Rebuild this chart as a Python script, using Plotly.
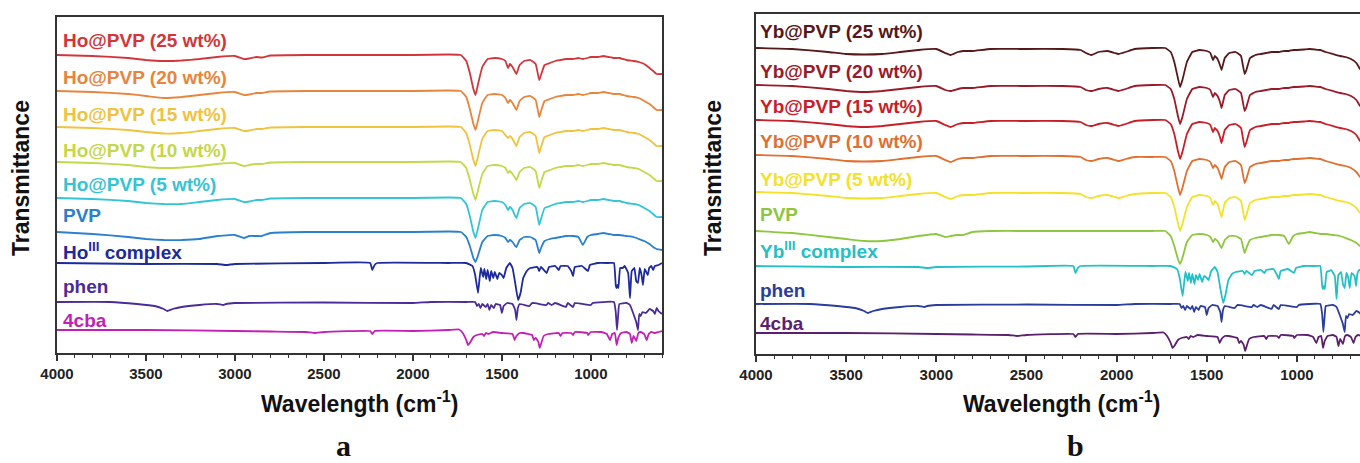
import plotly.graph_objects as go

# ---------------- data (transmittance, arbitrary units; 0 = local baseline) ----------------
wn_pvp_a = [4000, 3800, 3600, 3500, 3400, 3300, 3200, 3100, 3000, 2950,
            2920, 2880, 2850, 2800, 2600, 2400, 2200, 2000, 1800, 1730,
            1700, 1680, 1660, 1648, 1635, 1610, 1580, 1540, 1500, 1480,
            1465, 1455, 1440, 1425, 1418, 1400, 1375, 1340, 1310, 1290,
            1280, 1260, 1230, 1200, 1170, 1140, 1100, 1070, 1045, 1020,
            1000, 960, 930, 900, 870, 840, 800, 760, 730, 700,
            670, 650, 630, 600]

t_ho25 = [0, -1, -3, -5, -6, -5.5, -4, -2, -1, -4,
          -3.5, -2, -2.5, -0.5, 0, 0, 0, 0, 0.5, 0,
          -6, -18, -34, -40, -30, -12, -4, -3, -4, -6,
          -13, -9, -12, -17, -19, -10, -6, -5, -9, -25,
          -20, -10, -8, -6, -5, -4, -4, -3, -4, -3,
          -2, -2, -1, -2, -3, -3, -5, -6, -7, -9,
          -13, -16, -19, -19]
t_ho20 = [0, -1, -3, -5, -7, -6, -4, -2, -1, -4,
          -3.5, -2, -2, -0.5, 0, 0, 0, 0, 0.5, 0,
          -6, -18, -33, -39, -30, -12, -4, -3, -4, -7,
          -12, -9, -12, -17, -19, -10, -6, -5, -9, -26,
          -20, -10, -8, -6, -5, -4, -4, -3, -4, -3,
          -2, -2, -1, -2, -3, -3, -5, -6, -7, -10,
          -13, -16, -19, -19]
t_ho15 = [0, -1, -3, -5, -6.5, -6, -4, -2, -1, -4,
          -3.5, -2, -2, -0.5, 0, 0, 0, 0, 0.5, 0,
          -6, -18, -33, -39, -30, -12, -4, -3, -4, -8,
          -11, -9, -12, -17, -19, -10, -6, -5, -9, -26,
          -20, -10, -8, -6, -5, -4, -4, -3, -4, -3,
          -2, -2, -1, -2, -3, -3, -5, -6, -7, -10,
          -13, -16, -19, -19]
t_ho10 = [0, -1, -3, -5, -6, -5.5, -4, -2, -1, -4,
          -3, -2, -2, -0.5, 0, 0, 0, 0, 0.5, 0,
          -6, -18, -32, -38, -29, -12, -4, -3, -4, -6,
          -11, -9, -12, -16, -18, -10, -6, -5, -9, -26,
          -20, -10, -8, -6, -5, -4, -4, -3, -4, -3,
          -2, -2, -1, -2, -3, -3, -5, -6, -7, -10,
          -13, -16, -19, -19]
t_ho5 = [0, -1, -3, -5, -6, -6, -4, -2, -1, -4,
         -3.5, -2, -2, -0.5, 0, 0, 0, 0, 0.5, 0,
         -6, -18, -34, -40, -31, -12, -4, -3, -4, -7,
         -12, -9, -12, -18, -20, -10, -6, -5, -9, -27,
         -21, -10, -8, -6, -5, -4, -4, -3, -4, -3,
         -2, -2, -1, -2, -3, -3, -5, -6, -7, -10,
         -13, -16, -19, -19]
t_pvp_a = [0, -2, -5, -7, -8, -8, -7, -4, -3, -6,
           -4, -4, -4, -1, 0, 0, 0, 0, 0.5, 0,
           -5, -14, -26, -30, -24, -10, -4, -3, -4, -6,
           -10, -8, -10, -14, -15, -8, -5, -5, -8, -21,
           -16, -9, -7, -6, -5, -4, -4, -5, -13, -5,
           -3, -2, -1, -2, -3, -3, -4, -5, -7, -9,
           -12, -15, -17, -18]

wn_ho = [4000, 3500, 3100, 3050, 3000, 2500, 2240, 2228, 2215, 2200,
         1800, 1700, 1665, 1650, 1634, 1625, 1618, 1605, 1598, 1588,
         1580, 1568, 1560, 1548, 1540, 1525, 1515, 1500, 1490, 1475,
         1455, 1440, 1425, 1409, 1395, 1380, 1360, 1340, 1300, 1290,
         1280, 1248, 1235, 1200, 1180, 1170, 1130, 1110, 1100, 1090,
         1050, 1016, 1005, 960, 900, 870, 860, 855, 850, 845,
         835, 820, 810, 790, 780, 770, 755, 745, 735, 725,
         715, 707, 697, 680, 672, 660, 650, 640, 620, 600]
t_ho = [0, -1, -1, -2, -1, 0, 0, -7, -2, 0,
        0, 0, -3, -12, -30, -15, -5, -14, -6, -16,
        -7, -18, -8, -15, -9, -16, -10, -12, -15, -5,
        0, -5, -20, -37, -30, -15, -8, -5, -4, -8,
        -4, -10, -4, -3, -7, -3, -3, -8, -13, -4,
        -3, -8, -2, 0, 0, 0, -22, -25, -22, -25,
        -5, -5, -3, -10, -35, -8, -5, -18, -20, -5,
        -12, -22, -6, -12, -5, -3, -7, -3, -2, 0]

wn_phen = [4000, 3700, 3550, 3450, 3400, 3380, 3350, 3300, 3200, 3100,
           3065, 3050, 3000, 2500, 2000, 1900, 1700, 1650, 1640, 1630,
           1620, 1610, 1590, 1580, 1570, 1560, 1545, 1535, 1510, 1500,
           1490, 1470, 1440, 1425, 1418, 1410, 1400, 1345, 1330, 1250,
           1240, 1220, 1200, 1140, 1130, 1100, 1090, 1000, 990, 870,
           860, 853, 846, 840, 800, 780, 745, 735, 728, 720,
           710, 690, 670, 650, 640, 630, 620, 600]
t_phen = [0, 0, -2, -4, -7, -9, -7, -5, -3, -2,
          -3, -2, -1, -0.5, -1, 0, 0, 0, -4, -2,
          -6, -2, -5, -2, -8, -3, -6, -2, -3, -11,
          -4, -1, -2, -8, -18, -6, -2, -4, -1, -3,
          -1, -3, -1, -5, -1, -5, -1, -3, -1, 0,
          -10, -28, -12, -2, -1, -3, -20, -28, -12, -14,
          -10, -11, -7, -9, -12, -6, -9, -12]

wn_cba = [4000, 3500, 3000, 2800, 2600, 2550, 2500, 2240, 2228, 2215,
          2000, 1800, 1740, 1720, 1700, 1690, 1680, 1660, 1640, 1610,
          1600, 1590, 1575, 1550, 1500, 1440, 1428, 1418, 1400, 1380,
          1330, 1320, 1310, 1295, 1287, 1280, 1265, 1240, 1180, 1170,
          1160, 1110, 1100, 1090, 1020, 1015, 1000, 940, 910, 892,
          880, 865, 855, 846, 830, 800, 780, 770, 760, 745,
          733, 720, 700, 686, 675, 660, 640, 620, 600]
t_cba = [0, 0, -1, -1.5, -2, -3, -2, -1, -4, -1,
         -1, 0, 0.5, -3, -10, -15, -13, -7, -5, -4,
         -6, -3, -4, -2, -3, -4, -10, -6, -3, -3,
         -5, -10, -8, -12, -18, -14, -6, -4, -3, -6,
         -3, -3, -5, -2, -3, -5, -2, -2, -4, -10,
         -4, -3, -15, -8, -3, -2, -4, -13, -6, -11,
         -3, -2, -4, -10, -4, -2, -3, -2, -1]

wn_pvp_b = [4000, 3800, 3600, 3500, 3400, 3300, 3200, 3100, 3000, 2950,
            2920, 2880, 2850, 2800, 2700, 2500, 2300, 2200, 2170, 2140,
            2100, 2050, 2010, 1990, 1950, 1900, 1800, 1730, 1700, 1680,
            1660, 1648, 1635, 1610, 1580, 1540, 1500, 1480, 1465, 1455,
            1440, 1425, 1418, 1400, 1375, 1340, 1310, 1290, 1280, 1260,
            1230, 1200, 1170, 1140, 1100, 1070, 1045, 1020, 1000, 960,
            930, 900, 870, 840, 800, 760, 730, 700, 670, 650,
            630, 605]

t_yb25 = [0, -1, -4, -6, -6.5, -6, -4, -2, -1, -5,
          -7, -4, -3, -3, -1, -1, -1, -2, -5, -7,
          -4, -3, -5, -6, -4, -1, 0, 0, -4, -14,
          -30, -39, -32, -14, -4, -2, -3, -5, -12, -8,
          -11, -18, -22, -10, -5, -4, -8, -26, -22, -10,
          -7, -6, -5, -4, -4, -3, -3, -2, -2, -1.5,
          -1, -1.5, -2, -4, -6, -8, -9, -11, -15, -21,
          -24, -26]
t_yb20 = [0, -1, -4, -6, -7, -6, -4, -2, -1, -5,
          -6, -4, -3, -3, -1, -1, -1, -2, -5, -6,
          -4, -3, -5, -6, -4, -1, 0, 0, -4, -14,
          -31, -39, -32, -14, -4, -2, -3, -5, -12, -8,
          -11, -18, -23, -10, -5, -4, -8, -26, -22, -10,
          -7, -6, -5, -4, -4, -3, -3, -2, -2, -1.5,
          -1, -1.5, -2, -4, -6, -8, -9, -11, -15, -21,
          -24, -26]
t_yb15 = [0, -1, -4, -6, -7, -6, -4, -2, -1, -5,
          -7, -4, -3, -3, -1, -1, -1, -2, -5, -6,
          -4, -3, -5, -6, -4, -1, 0, 0, -4, -14,
          -31, -39, -32, -14, -4, -2, -3, -5, -12, -8,
          -11, -18, -23, -10, -5, -4, -8, -27, -22, -10,
          -7, -6, -5, -4, -4, -3, -3, -2, -2, -1.5,
          -1, -1.5, -2, -4, -6, -8, -9, -11, -15, -21,
          -24, -26]
t_yb10 = [0, -1, -4, -6, -6.5, -6, -4, -2, -1, -5,
          -7, -4, -3, -3, -1, -1, -1, -2, -5, -6,
          -4, -3, -5, -6, -4, -2, -2, -2, -6, -16,
          -32, -40, -33, -16, -6, -4, -5, -7, -13, -10,
          -13, -20, -24, -12, -7, -6, -10, -28, -24, -12,
          -9, -8, -7, -6, -6, -5, -5, -4, -4, -3.5,
          -3, -3.5, -4, -6, -8, -10, -11, -13, -17, -22,
          -25, -27]
t_yb5 = [0, -1, -4, -6, -6.5, -6, -4, -2, -1, -5,
         -7, -4, -3, -3, -1, -1, -1, -2, -5, -6,
         -4, -3, -5, -6, -4, -2, -1, -1, -5, -15,
         -31, -39, -32, -15, -5, -3, -4, -6, -13, -9,
         -12, -21, -25, -11, -6, -5, -9, -28, -23, -11,
         -8, -7, -6, -5, -5, -4, -4, -3, -3, -2.5,
         -2, -2.5, -3, -5, -7, -9, -10, -12, -16, -21,
         -24, -26]
t_pvp_b = [0, -2, -6, -8, -10, -10, -8, -5, -3, -6,
           -5, -4, -4, -1, 0, 0, 0, 0, 0, 0,
           0, 0, 0, 0, 0, 0, 0, 0, -5, -15,
           -28, -33, -27, -11, -4, -3, -4, -6, -11, -8,
           -10, -15, -17, -9, -5, -5, -8, -22, -17, -9,
           -7, -6, -5, -4, -4, -5, -13, -5, -3, -2,
           -1, -2, -3, -3, -4, -5, -7, -9, -12, -15,
           -17, -18]

wn_yb = [4000, 3500, 3100, 3050, 3000, 2500, 2240, 2228, 2215, 2200,
         1800, 1700, 1665, 1650, 1634, 1625, 1618, 1605, 1598, 1588,
         1580, 1568, 1560, 1548, 1540, 1525, 1515, 1500, 1490, 1475,
         1455, 1440, 1425, 1409, 1395, 1380, 1360, 1340, 1300, 1290,
         1280, 1248, 1235, 1200, 1180, 1170, 1130, 1110, 1100, 1090,
         1050, 1016, 1005, 960, 900, 870, 860, 855, 850, 845,
         835, 820, 810, 790, 780, 770, 755, 745, 735, 725,
         715, 707, 697, 680, 672, 665, 655, 650]
t_yb = [0, -1, -1, -2, -1, -0.5, 0, -7, -2, 0,
        0, 0, -3, -12, -30, -16, -6, -15, -7, -17,
        -8, -18, -9, -14, -8, -16, -10, -12, -14, -5,
        -1, -6, -22, -37, -28, -14, -8, -6, -5, -8,
        -5, -9, -5, -4, -7, -4, -3, -9, -13, -5,
        -3, -7, -2, 0, 0, 0, -20, -23, -20, -23,
        -6, -5, -4, -10, -33, -9, -6, -18, -22, -7,
        -12, -22, -7, -10, -20, -8, -4, -4]

labels_a = ["Ho@PVP (25 wt%)", "Ho@PVP (20 wt%)", "Ho@PVP (15 wt%)", "Ho@PVP (10 wt%)",
            "Ho@PVP (5 wt%)", "PVP", "Ho<sup>III</sup> complex", "phen", "4cba"]
labels_b = ["Yb@PVP (25 wt%)", "Yb@PVP (20 wt%)", "Yb@PVP (15 wt%)", "Yb@PVP (10 wt%)",
            "Yb@PVP (5 wt%)", "PVP", "Yb<sup>III</sup> complex", "phen", "4cba"]

x_ticks = [4000, 3500, 3000, 2500, 2000, 1500, 1000]

# ---------------- styling / layout ----------------
colors_a = ["#d2363b", "#e8843c", "#f0c23e", "#c3d84a", "#33c4d6", "#2a80cf", "#1c2a9c", "#4a2c98", "#c21fb6"]
colors_b = ["#561818", "#9a1a2a", "#c81e28", "#e07030", "#f3e12a", "#8ec63f", "#22c1c8", "#2a3c9c", "#5c1f6e"]

offsets_a = [298, 262, 226, 191, 155, 121, 90, 51, 23]
offsets_b = [306, 269, 234, 199, 162, 123, 88, 50, 21]
label_y_a = [312.3, 276, 239, 203, 169, 138, 102, 66.3, 33]
label_y_b = [322.3, 282.3, 247, 212, 174, 139, 103.5, 63.5, 31]

series_a = [(wn_pvp_a, t_ho25), (wn_pvp_a, t_ho20), (wn_pvp_a, t_ho15), (wn_pvp_a, t_ho10),
            (wn_pvp_a, t_ho5), (wn_pvp_a, t_pvp_a), (wn_ho, t_ho), (wn_phen, t_phen), (wn_cba, t_cba)]
series_b = [(wn_pvp_b, t_yb25), (wn_pvp_b, t_yb20), (wn_pvp_b, t_yb15), (wn_pvp_b, t_yb10),
            (wn_pvp_b, t_yb5), (wn_pvp_b, t_pvp_b), (wn_yb, t_yb), (wn_phen, t_phen), (wn_cba, t_cba)]

W, H = 1360, 463
FONT = "Arial, Liberation Sans, sans-serif"
fig = go.Figure()

def add_panel(series, offsets, colors, xa, ya):
    for (wn, t), off, c in zip(series, offsets, colors):
        fig.add_trace(go.Scatter(
            x=wn, y=[off + v for v in t], mode="lines",
            line=dict(color=c, width=1.8, shape="spline", smoothing=0.3),
            xaxis=xa, yaxis=ya, showlegend=False, hoverinfo="skip"))

add_panel(series_a, offsets_a, colors_a, "x", "y")
add_panel(series_b, offsets_b, colors_b, "x2", "y2")

def px_x(p):
    return p / W

def px_y(p):
    return 1 - p / H

axis_common = dict(
    autorange=False, automargin=False, showgrid=False, zeroline=False, showline=True,
    linecolor="#333333", linewidth=1.6, mirror=True,
    ticks="outside", ticklen=6, tickwidth=1.5, tickcolor="#333333",
    tickvals=x_ticks, ticktext=[str(v) for v in x_ticks],
    tickfont=dict(family=FONT, size=15, color="#222222", weight="bold"),
    minor=dict(ticks="outside", ticklen=3.5, tickwidth=1.2, tickcolor="#333333", dtick=100, tick0=0),
)
yaxis_common = dict(automargin=False, showgrid=False, zeroline=False, showticklabels=False, ticks="",
                    showline=True, linecolor="#333333", linewidth=1.6)

fig.update_layout(
    width=W, height=H, margin=dict(l=0, r=0, t=0, b=0, pad=0, autoexpand=False),
    paper_bgcolor="white", plot_bgcolor="white",
    xaxis=dict(domain=[px_x(57), px_x(662)], range=[4000, 600], anchor="y", **axis_common),
    yaxis=dict(domain=[px_y(353), px_y(17)], range=[0, 336], anchor="x", mirror=True, **yaxis_common),
    xaxis2=dict(domain=[px_x(756), 1.0], range=[4000, 650], anchor="y2", **axis_common),
    yaxis2=dict(domain=[px_y(354), px_y(14)], range=[0, 340], anchor="x2", mirror=False, **yaxis_common),
)

ann = []
for lab, y, c in zip(labels_a, label_y_a, colors_a):
    ann.append(dict(text=lab, xref="x domain", yref="y", x=0.0066, y=y, xanchor="left", yanchor="middle",
                    showarrow=False, font=dict(family=FONT, size=19, color=c, weight="bold")))
for lab, y, c in zip(labels_b, label_y_b, colors_b):
    ann.append(dict(text=lab, xref="x2 domain", yref="y2", x=0.0025, y=y, xanchor="left", yanchor="middle",
                    showarrow=False, font=dict(family=FONT, size=19, color=c, weight="bold")))

for cx, ty, cxy in [(359.5, 402, 21), (1062, 402, 713)]:
    ann.append(dict(text="Wavelength (cm<sup>-1</sup>)", xref="paper", yref="paper", x=px_x(cx), y=px_y(ty),
                    xanchor="center", yanchor="middle", showarrow=False,
                    font=dict(family=FONT, size=23, color="#111111", weight="bold")))
    ann.append(dict(text="Transmittance", xref="paper", yref="paper", x=px_x(cxy), y=px_y(178),
                    xanchor="center", yanchor="middle", textangle=-90, showarrow=False,
                    font=dict(family=FONT, size=23, color="#111111", weight="bold")))

for txt, cx in [("a", 343), ("b", 1075)]:
    ann.append(dict(text=txt, xref="paper", yref="paper", x=px_x(cx), y=px_y(445),
                    xanchor="center", yanchor="middle", showarrow=False,
                    font=dict(family="Liberation Serif, Times New Roman, serif", size=30, color="#111111", weight="bold")))

fig.update_layout(annotations=ann)
fig.write_html("out.html")
